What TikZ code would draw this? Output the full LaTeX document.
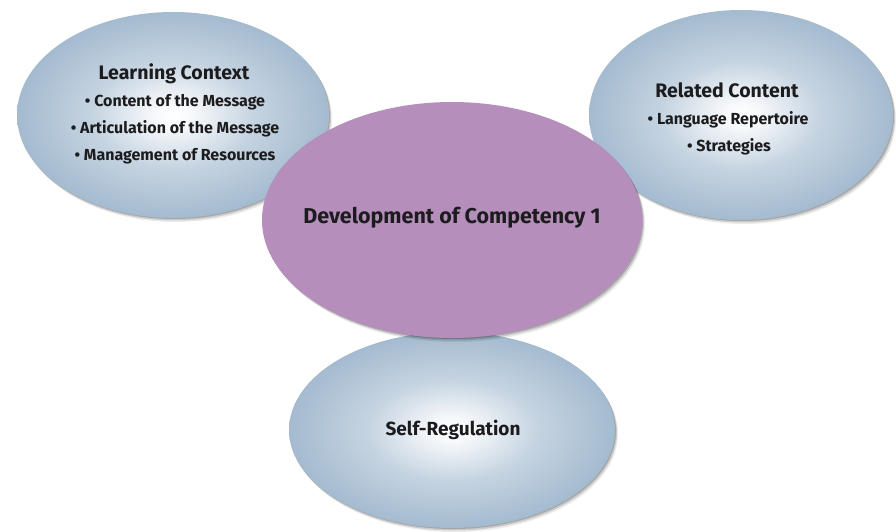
\documentclass[tikz,border=0pt]{standalone}
\usepackage{fontspec}
\setmainfont{Fira Sans}
\usetikzlibrary{shapes.geometric,shadows}
\definecolor{blu}{RGB}{150,176,200}
\definecolor{purp}{RGB}{182,142,188}
\definecolor{ink}{RGB}{28,28,30}
\pgfdeclareradialshading{blueglow}{\pgfpoint{0bp}{0bp}}{color(0bp)=(white); color(3bp)=(white!92!blu); color(13bp)=(white!45!blu); color(30bp)=(blu); color(50bp)=(blu)}
\begin{document}
\begin{tikzpicture}[x=1pt,y=-1pt,
  soft/.style={
    drop shadow={shadow xshift=1pt,shadow yshift=-1pt,opacity=.18,fill=black},
    drop shadow={shadow xshift=2pt,shadow yshift=-2.5pt,opacity=.14,fill=black},
    drop shadow={shadow xshift=3pt,shadow yshift=-4pt,opacity=.08,fill=black}},
  bubble/.style={ellipse,inner sep=0pt,soft,shading=blueglow,draw=none},
  core/.style={ellipse,inner sep=0pt,soft,fill=purp,draw=none},
  head/.style={font=\bfseries\fontsize{19.5}{22}\selectfont,text=ink},
  item/.style={font=\bfseries\fontsize{16}{18}\selectfont,text=ink},
  title/.style={font=\bfseries\fontsize{21.5}{24}\selectfont,text=ink}]
\useasboundingbox (0,0) rectangle (896,532);
\node[bubble,minimum width=312pt,minimum height=206pt] (lc) at (173,115) {};
\node[bubble,minimum width=304pt,minimum height=210pt] (rc) at (741,115) {};
\node[bubble,minimum width=326pt,minimum height=196pt] (sr) at (452,430) {};
\node[core,minimum width=380pt,minimum height=236pt] (dc) at (452,220) {};
% texts
\node[head] (lch) at (174,74) {Learning Context};
\node[item] (lc1) at (175,102) {• Content of the Message};
\node[item] (lc2) at (175,129) {• Articulation of the Message};
\node[item] (lc3) at (175,156) {• Management of Resources};
\node[head] (rch) at (727,90) {Related Content};
\node[item] (rc1) at (728,120) {• Language Repertoire};
\node[item] (rc2) at (729,147) {• Strategies};
\node[title] (dct) at (452,218) {Development of Competency 1};
\node[head,font=\bfseries\fontsize{19}{22}\selectfont] (srt) at (453,430) {Self-Regulation};
\end{tikzpicture}
\end{document}
